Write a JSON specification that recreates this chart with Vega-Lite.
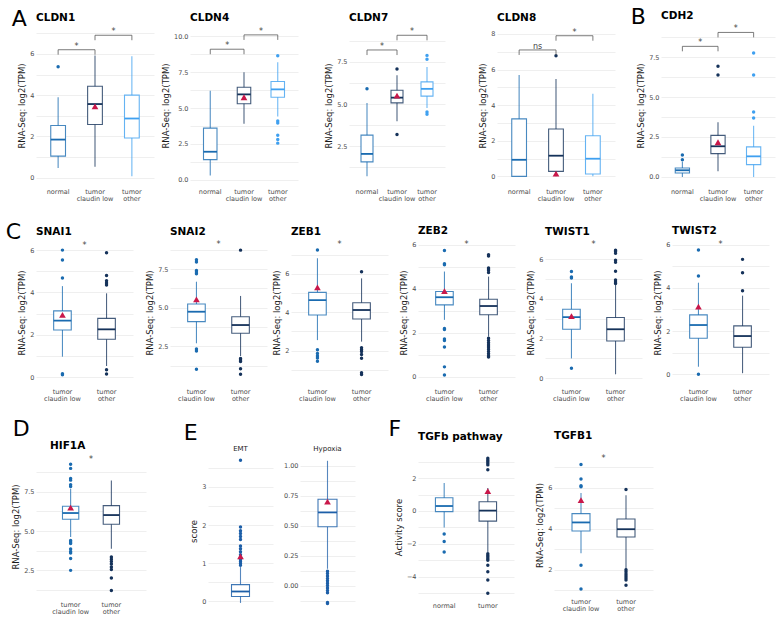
{
"$schema": "https://vega.github.io/schema/vega-lite/v6.json",
"background": "white",
"padding": 5,
"config": {
  "font": "DejaVu Sans",
  "view": {"stroke": null},
  "axis": {"domain": false, "ticks": false, "labelOverlap": false, "labelFontSize": 6.5, "labelColor": "#4d4d4d", "titleFontSize": 8.5, "titleFontWeight": "normal", "titleColor": "#1a1a1a", "gridColor": "#ebebeb", "gridWidth": 0.8, "labelPadding": 2, "titlePadding": 3},
  "axisX": {"grid": false, "labelAngle": 0, "labelPadding": 4, "labelLineHeight": 7.5, "labelColor": "#4d4d4d"},
  "title": {"fontSize": 10.5, "fontWeight": "bold", "anchor": "start", "frame": "group", "color": "#000000", "offset": 4},
  "concat": {"spacing": 6}
},
"datasets": {
  "box": [
    {"p":"CLDN1","g":"normal","lo":0.48,"q1":1.05,"md":1.85,"q3":2.53,"hi":3.9},
    {"p":"CLDN1","g":"tumor claudin low","lo":0.53,"q1":2.58,"md":3.57,"q3":4.43,"hi":5.92},
    {"p":"CLDN1","g":"tumor other","lo":0.08,"q1":1.93,"md":2.87,"q3":4.0,"hi":5.88},
    {"p":"CLDN4","g":"normal","lo":0.3,"q1":1.4,"md":1.95,"q3":3.6,"hi":6.2},
    {"p":"CLDN4","g":"tumor claudin low","lo":3.9,"q1":5.3,"md":5.95,"q3":6.45,"hi":7.5},
    {"p":"CLDN4","g":"tumor other","lo":4.4,"q1":5.75,"md":6.3,"q3":6.85,"hi":8.2},
    {"p":"CLDN7","g":"normal","lo":0.73,"q1":1.58,"md":2.05,"q3":3.16,"hi":5.07},
    {"p":"CLDN7","g":"tumor claudin low","lo":3.99,"q1":5.07,"md":5.38,"q3":5.82,"hi":6.7},
    {"p":"CLDN7","g":"tumor other","lo":4.77,"q1":5.47,"md":5.9,"q3":6.31,"hi":7.2},
    {"p":"CLDN8","g":"normal","lo":0,"q1":0,"md":0.93,"q3":3.23,"hi":5.7},
    {"p":"CLDN8","g":"tumor claudin low","lo":0,"q1":0.28,"md":1.16,"q3":2.66,"hi":5.47},
    {"p":"CLDN8","g":"tumor other","lo":0,"q1":0.13,"md":0.99,"q3":2.28,"hi":4.64},
    {"p":"CDH2","g":"normal","lo":0,"q1":0.25,"md":0.42,"q3":0.56,"hi":0.95},
    {"p":"CDH2","g":"tumor claudin low","lo":0.35,"q1":1.46,"md":1.92,"q3":2.6,"hi":3.42},
    {"p":"CDH2","g":"tumor other","lo":0,"q1":0.77,"md":1.29,"q3":1.88,"hi":3.2},
    {"p":"SNAI1","g":"tumor claudin low","lo":0.97,"q1":2.23,"md":2.67,"q3":3.13,"hi":4.3},
    {"p":"SNAI1","g":"tumor other","lo":0.53,"q1":1.79,"md":2.26,"q3":2.78,"hi":3.96},
    {"p":"SNAI2","g":"tumor claudin low","lo":2.7,"q1":4.1,"md":4.74,"q3":5.24,"hi":6.68},
    {"p":"SNAI2","g":"tumor other","lo":1.88,"q1":3.35,"md":3.88,"q3":4.42,"hi":5.76},
    {"p":"ZEB1","g":"tumor claudin low","lo":2.55,"q1":3.86,"md":4.64,"q3":5.04,"hi":6.82},
    {"p":"ZEB1","g":"tumor other","lo":2.47,"q1":3.65,"md":4.12,"q3":4.5,"hi":5.77},
    {"p":"ZEB2","g":"tumor claudin low","lo":2.59,"q1":3.27,"md":3.62,"q3":3.88,"hi":4.79},
    {"p":"ZEB2","g":"tumor other","lo":1.83,"q1":2.82,"md":3.22,"q3":3.53,"hi":4.56},
    {"p":"TWIST1","g":"tumor claudin low","lo":1.0,"q1":2.47,"md":3.08,"q3":3.48,"hi":4.79},
    {"p":"TWIST1","g":"tumor other","lo":0.2,"q1":1.88,"md":2.47,"q3":3.06,"hi":4.7},
    {"p":"TWIST2","g":"tumor claudin low","lo":0.35,"q1":1.67,"md":2.28,"q3":2.75,"hi":4.24},
    {"p":"TWIST2","g":"tumor other","lo":0.05,"q1":1.25,"md":1.77,"q3":2.24,"hi":3.64},
    {"p":"HIF1A","g":"tumor claudin low","lo":4.62,"q1":5.75,"md":6.15,"q3":6.58,"hi":7.7},
    {"p":"HIF1A","g":"tumor other","lo":3.87,"q1":5.43,"md":6.02,"q3":6.62,"hi":8.23},
    {"p":"EMT","g":"EMT","lo":-0.04,"q1":0.13,"md":0.26,"q3":0.44,"hi":0.9},
    {"p":"Hypoxia","g":"Hypoxia","lo":0.14,"q1":0.49,"md":0.61,"q3":0.72,"hi":1.04},
    {"p":"TGFb","g":"normal","lo":-1.0,"q1":-0.04,"md":0.3,"q3":0.8,"hi":1.7},
    {"p":"TGFb","g":"tumor","lo":-2.5,"q1":-0.62,"md":0.02,"q3":0.56,"hi":1.4},
    {"p":"TGFB1","g":"tumor claudin low","lo":2.81,"q1":3.89,"md":4.31,"q3":4.74,"hi":5.74},
    {"p":"TGFB1","g":"tumor other","lo":1.86,"q1":3.6,"md":3.98,"q3":4.48,"hi":5.63}
  ],
  "mean": [
    {"p":"CLDN1","g":"tumor claudin low","m":3.46},
    {"p":"CLDN4","g":"tumor claudin low","m":5.75},
    {"p":"CLDN7","g":"tumor claudin low","m":5.5},
    {"p":"CLDN8","g":"tumor claudin low","m":0.15},
    {"p":"CDH2","g":"tumor claudin low","m":2.17},
    {"p":"SNAI1","g":"tumor claudin low","m":2.94},
    {"p":"SNAI2","g":"tumor claudin low","m":5.54},
    {"p":"ZEB1","g":"tumor claudin low","m":5.3},
    {"p":"ZEB2","g":"tumor claudin low","m":3.9},
    {"p":"TWIST1","g":"tumor claudin low","m":3.13},
    {"p":"TWIST2","g":"tumor claudin low","m":3.13},
    {"p":"HIF1A","g":"tumor claudin low","m":6.5},
    {"p":"EMT","g":"EMT","m":1.18},
    {"p":"Hypoxia","g":"Hypoxia","m":0.7},
    {"p":"TGFb","g":"tumor","m":1.2},
    {"p":"TGFB1","g":"tumor claudin low","m":5.4}
  ],
  "sig": [
    {"p":"CLDN1","g1":"normal","g2":"tumor claudin low","y":6.2,"yl":5.96,"t":"*"},
    {"p":"CLDN1","g1":"tumor claudin low","g2":"tumor other","y":6.9,"yl":6.66,"t":"*"},
    {"p":"CLDN4","g1":"normal","g2":"tumor claudin low","y":9.1,"yl":8.75,"t":"*"},
    {"p":"CLDN4","g1":"tumor claudin low","g2":"tumor other","y":10.1,"yl":9.75,"t":"*"},
    {"p":"CLDN7","g1":"normal","g2":"tumor claudin low","y":8.2,"yl":7.9,"t":"*"},
    {"p":"CLDN7","g1":"tumor claudin low","g2":"tumor other","y":9.07,"yl":8.77,"t":"*"},
    {"p":"CLDN8","g1":"normal","g2":"tumor claudin low","y":7.1,"yl":6.82,"t":"ns"},
    {"p":"CLDN8","g1":"tumor claudin low","g2":"tumor other","y":7.9,"yl":7.62,"t":"*"},
    {"p":"CDH2","g1":"normal","g2":"tumor claudin low","y":8.17,"yl":7.86,"t":"*"},
    {"p":"CDH2","g1":"tumor claudin low","g2":"tumor other","y":9.04,"yl":8.73,"t":"*"},
    {"p":"SNAI1","g1":"tumor claudin low","g2":"tumor other","y":6.2,"yl":6.2,"t":"*"},
    {"p":"SNAI2","g1":"tumor claudin low","g2":"tumor other","y":9.05,"yl":9.05,"t":"*"},
    {"p":"ZEB1","g1":"tumor claudin low","g2":"tumor other","y":7.5,"yl":7.5,"t":"*"},
    {"p":"ZEB2","g1":"tumor claudin low","g2":"tumor other","y":6.0,"yl":6.0,"t":"*"},
    {"p":"TWIST1","g1":"tumor claudin low","g2":"tumor other","y":6.7,"yl":6.7,"t":"*"},
    {"p":"TWIST2","g1":"tumor claudin low","g2":"tumor other","y":6.0,"yl":6.0,"t":"*"},
    {"p":"HIF1A","g1":"tumor claudin low","g2":"tumor other","y":9.55,"yl":9.55,"t":"*"},
    {"p":"TGFB1","g1":"tumor claudin low","g2":"tumor other","y":7.4,"yl":7.4,"t":"*"}
  ],
  "out": [
    {"p":"CLDN1","g":"normal","v":5.38},
    {"p":"CLDN4","g":"tumor other","v":8.65},{"p":"CLDN4","g":"tumor other","v":4.1},{"p":"CLDN4","g":"tumor other","v":3.95},{"p":"CLDN4","g":"tumor other","v":3.1},{"p":"CLDN4","g":"tumor other","v":2.8},{"p":"CLDN4","g":"tumor other","v":2.55},
    {"p":"CLDN7","g":"normal","v":5.9},{"p":"CLDN7","g":"tumor claudin low","v":7.08},{"p":"CLDN7","g":"tumor claudin low","v":3.2},{"p":"CLDN7","g":"tumor other","v":7.88},{"p":"CLDN7","g":"tumor other","v":7.65},{"p":"CLDN7","g":"tumor other","v":4.53},{"p":"CLDN7","g":"tumor other","v":4.4},
    {"p":"CLDN8","g":"tumor claudin low","v":6.77},
    {"p":"CDH2","g":"normal","v":1.37},{"p":"CDH2","g":"normal","v":1.08},{"p":"CDH2","g":"tumor claudin low","v":6.92},{"p":"CDH2","g":"tumor claudin low","v":6.38},{"p":"CDH2","g":"tumor other","v":7.75},{"p":"CDH2","g":"tumor other","v":6.38},{"p":"CDH2","g":"tumor other","v":4.06},{"p":"CDH2","g":"tumor other","v":3.69},
    {"p":"SNAI1","g":"tumor claudin low","v":6.0},{"p":"SNAI1","g":"tumor claudin low","v":5.53},{"p":"SNAI1","g":"tumor claudin low","v":4.68},{"p":"SNAI1","g":"tumor claudin low","v":0.16},{"p":"SNAI1","g":"tumor claudin low","v":0.12},
    {"p":"SNAI1","g":"tumor other","v":5.88},{"p":"SNAI1","g":"tumor other","v":4.8},{"p":"SNAI1","g":"tumor other","v":4.55},{"p":"SNAI1","g":"tumor other","v":4.45},{"p":"SNAI1","g":"tumor other","v":4.35},{"p":"SNAI1","g":"tumor other","v":0.35},{"p":"SNAI1","g":"tumor other","v":0.15},
    {"p":"SNAI2","g":"tumor claudin low","v":8.1},{"p":"SNAI2","g":"tumor claudin low","v":7.95},{"p":"SNAI2","g":"tumor claudin low","v":7.4},{"p":"SNAI2","g":"tumor claudin low","v":7.3},{"p":"SNAI2","g":"tumor claudin low","v":7.2},{"p":"SNAI2","g":"tumor claudin low","v":2.33},{"p":"SNAI2","g":"tumor claudin low","v":2.2},{"p":"SNAI2","g":"tumor claudin low","v":1.02},
    {"p":"SNAI2","g":"tumor other","v":8.72},{"p":"SNAI2","g":"tumor other","v":1.72},{"p":"SNAI2","g":"tumor other","v":1.62},{"p":"SNAI2","g":"tumor other","v":1.52},{"p":"SNAI2","g":"tumor other","v":1.05},{"p":"SNAI2","g":"tumor other","v":0.7},
    {"p":"ZEB1","g":"tumor claudin low","v":7.25},{"p":"ZEB1","g":"tumor claudin low","v":2.05},{"p":"ZEB1","g":"tumor claudin low","v":1.85},{"p":"ZEB1","g":"tumor claudin low","v":1.72},{"p":"ZEB1","g":"tumor claudin low","v":1.62},{"p":"ZEB1","g":"tumor claudin low","v":1.45},
    {"p":"ZEB1","g":"tumor other","v":6.12},{"p":"ZEB1","g":"tumor other","v":2.15},{"p":"ZEB1","g":"tumor other","v":2.05},{"p":"ZEB1","g":"tumor other","v":1.95},{"p":"ZEB1","g":"tumor other","v":1.8},{"p":"ZEB1","g":"tumor other","v":1.6},{"p":"ZEB1","g":"tumor other","v":0.85},{"p":"ZEB1","g":"tumor other","v":0.75},
    {"p":"ZEB2","g":"tumor claudin low","v":5.75},{"p":"ZEB2","g":"tumor claudin low","v":5.15},{"p":"ZEB2","g":"tumor claudin low","v":5.1},{"p":"ZEB2","g":"tumor claudin low","v":2.2},{"p":"ZEB2","g":"tumor claudin low","v":2.15},{"p":"ZEB2","g":"tumor claudin low","v":1.72},{"p":"ZEB2","g":"tumor claudin low","v":1.65},{"p":"ZEB2","g":"tumor claudin low","v":1.35},{"p":"ZEB2","g":"tumor claudin low","v":0.45},{"p":"ZEB2","g":"tumor claudin low","v":0.08},
    {"p":"ZEB2","g":"tumor other","v":5.55},{"p":"ZEB2","g":"tumor other","v":5.5},{"p":"ZEB2","g":"tumor other","v":4.95},{"p":"ZEB2","g":"tumor other","v":4.9},{"p":"ZEB2","g":"tumor other","v":4.85},{"p":"ZEB2","g":"tumor other","v":4.75},{"p":"ZEB2","g":"tumor other","v":1.75},{"p":"ZEB2","g":"tumor other","v":1.65},{"p":"ZEB2","g":"tumor other","v":1.55},{"p":"ZEB2","g":"tumor other","v":1.45},{"p":"ZEB2","g":"tumor other","v":1.35},{"p":"ZEB2","g":"tumor other","v":1.25},{"p":"ZEB2","g":"tumor other","v":1.15},{"p":"ZEB2","g":"tumor other","v":1.05},{"p":"ZEB2","g":"tumor other","v":0.95},{"p":"ZEB2","g":"tumor other","v":0.9},
    {"p":"TWIST1","g":"tumor claudin low","v":5.38},{"p":"TWIST1","g":"tumor claudin low","v":5.1},{"p":"TWIST1","g":"tumor claudin low","v":5.05},{"p":"TWIST1","g":"tumor claudin low","v":0.5},
    {"p":"TWIST1","g":"tumor other","v":6.45},{"p":"TWIST1","g":"tumor other","v":6.4},{"p":"TWIST1","g":"tumor other","v":6.3},{"p":"TWIST1","g":"tumor other","v":5.95},{"p":"TWIST1","g":"tumor other","v":5.85},{"p":"TWIST1","g":"tumor other","v":5.4},{"p":"TWIST1","g":"tumor other","v":4.95},{"p":"TWIST1","g":"tumor other","v":4.85},{"p":"TWIST1","g":"tumor other","v":4.78},
    {"p":"TWIST2","g":"tumor claudin low","v":5.75},{"p":"TWIST2","g":"tumor claudin low","v":4.55},{"p":"TWIST2","g":"tumor claudin low","v":0.0},{"p":"TWIST2","g":"tumor other","v":5.32},{"p":"TWIST2","g":"tumor other","v":4.7},{"p":"TWIST2","g":"tumor other","v":3.87},
    {"p":"HIF1A","g":"tumor claudin low","v":9.26},{"p":"HIF1A","g":"tumor claudin low","v":9.0},{"p":"HIF1A","g":"tumor claudin low","v":8.35},{"p":"HIF1A","g":"tumor claudin low","v":8.25},{"p":"HIF1A","g":"tumor claudin low","v":7.95},{"p":"HIF1A","g":"tumor claudin low","v":7.85},{"p":"HIF1A","g":"tumor claudin low","v":4.4},{"p":"HIF1A","g":"tumor claudin low","v":4.3},{"p":"HIF1A","g":"tumor claudin low","v":4.2},{"p":"HIF1A","g":"tumor claudin low","v":3.85},{"p":"HIF1A","g":"tumor claudin low","v":3.7},{"p":"HIF1A","g":"tumor claudin low","v":3.6},{"p":"HIF1A","g":"tumor claudin low","v":3.25},{"p":"HIF1A","g":"tumor claudin low","v":2.49},
    {"p":"HIF1A","g":"tumor other","v":3.35},{"p":"HIF1A","g":"tumor other","v":3.2},{"p":"HIF1A","g":"tumor other","v":3.05},{"p":"HIF1A","g":"tumor other","v":2.9},{"p":"HIF1A","g":"tumor other","v":2.7},{"p":"HIF1A","g":"tumor other","v":2.55},{"p":"HIF1A","g":"tumor other","v":2.0},{"p":"HIF1A","g":"tumor other","v":1.2},
    {"p":"EMT","g":"EMT","v":3.7},{"p":"EMT","g":"EMT","v":1.95},{"p":"EMT","g":"EMT","v":1.85},{"p":"EMT","g":"EMT","v":1.78},{"p":"EMT","g":"EMT","v":1.7},{"p":"EMT","g":"EMT","v":1.62},{"p":"EMT","g":"EMT","v":1.45},{"p":"EMT","g":"EMT","v":1.38},{"p":"EMT","g":"EMT","v":1.3},{"p":"EMT","g":"EMT","v":1.22},{"p":"EMT","g":"EMT","v":1.15},{"p":"EMT","g":"EMT","v":1.1},{"p":"EMT","g":"EMT","v":1.05},{"p":"EMT","g":"EMT","v":1.0},{"p":"EMT","g":"EMT","v":0.95},
    {"p":"Hypoxia","g":"Hypoxia","v":0.12},{"p":"Hypoxia","g":"Hypoxia","v":0.1},{"p":"Hypoxia","g":"Hypoxia","v":0.08},{"p":"Hypoxia","g":"Hypoxia","v":0.06},{"p":"Hypoxia","g":"Hypoxia","v":0.04},{"p":"Hypoxia","g":"Hypoxia","v":0.02},{"p":"Hypoxia","g":"Hypoxia","v":0.0},{"p":"Hypoxia","g":"Hypoxia","v":-0.02},{"p":"Hypoxia","g":"Hypoxia","v":-0.04},{"p":"Hypoxia","g":"Hypoxia","v":-0.06},{"p":"Hypoxia","g":"Hypoxia","v":-0.14},{"p":"Hypoxia","g":"Hypoxia","v":-0.15},
    {"p":"TGFb","g":"normal","v":-1.4},{"p":"TGFb","g":"normal","v":-1.85},{"p":"TGFb","g":"normal","v":-2.5},
    {"p":"TGFb","g":"tumor","v":3.2},{"p":"TGFb","g":"tumor","v":3.1},{"p":"TGFb","g":"tumor","v":3.0},{"p":"TGFb","g":"tumor","v":2.9},{"p":"TGFb","g":"tumor","v":2.8},{"p":"TGFb","g":"tumor","v":2.5},{"p":"TGFb","g":"tumor","v":-2.6},{"p":"TGFb","g":"tumor","v":-2.7},{"p":"TGFb","g":"tumor","v":-2.8},{"p":"TGFb","g":"tumor","v":-2.9},{"p":"TGFb","g":"tumor","v":-3.0},{"p":"TGFb","g":"tumor","v":-3.3},{"p":"TGFb","g":"tumor","v":-3.7},{"p":"TGFb","g":"tumor","v":-4.2},{"p":"TGFb","g":"tumor","v":-5.0},
    {"p":"TGFB1","g":"tumor claudin low","v":7.14},{"p":"TGFB1","g":"tumor claudin low","v":6.43},{"p":"TGFB1","g":"tumor claudin low","v":6.1},{"p":"TGFB1","g":"tumor claudin low","v":6.05},{"p":"TGFB1","g":"tumor claudin low","v":2.22},{"p":"TGFB1","g":"tumor claudin low","v":1.06},
    {"p":"TGFB1","g":"tumor other","v":5.92},{"p":"TGFB1","g":"tumor other","v":2.0},{"p":"TGFB1","g":"tumor other","v":1.9},{"p":"TGFB1","g":"tumor other","v":1.8},{"p":"TGFB1","g":"tumor other","v":1.7},{"p":"TGFB1","g":"tumor other","v":1.6},{"p":"TGFB1","g":"tumor other","v":1.5},{"p":"TGFB1","g":"tumor other","v":1.25}
  ]
},
"resolve": {"scale": {"color": "independent", "stroke": "independent"}},
"columns": 1,
"align": "none",
"spacing": 19,
"concat": [
 {"hconcat": [
  {"title": {"text": "A", "fontSize": 22, "fontWeight": "normal", "anchor": "start", "frame": "bounds", "offset": -18, "dx": -6},
   "resolve": {"scale": {"color": "independent", "stroke": "independent"}},
   "spacing": 33,
   "hconcat": [
    {"resolve": {"scale": {"color": "independent", "stroke": "independent"}},
     "spacing": 26,
     "hconcat": [
    {"resolve": {"scale": {"color": "independent", "stroke": "independent"}},
     "spacing": 7,
     "hconcat": [
    {"width": 118, "height": 157, "title": "CLDN1",
     "encoding": {"x": {"field":"g","type":"nominal","title":null,"scale":{"domain":["normal","tumor claudin low","tumor other"],"paddingInner":0,"paddingOuter":0.1},"axis":{"labelExpr":"datum.label == 'tumor claudin low' ? ['tumor','claudin low'] : datum.label == 'tumor other' ? ['tumor','other'] : datum.label"}}},
     "layer": [
      {"data":{"name":"box"},"transform":[{"filter":"datum.p=='CLDN1'"}],"layer":[
        {"mark":{"type":"rule","strokeWidth":1.1,"opacity":0.75},"encoding":{"y":{"field":"lo","type":"quantitative","title":"RNA-Seq: log2(TPM)","scale":{"domain":[-0.3,7.3],"nice":false,"zero":false},"axis":{"tickCount":100,"labelOverlap":false,"format":".0f","values":[0,1,2,3,4,5,6,7],"labelExpr":"datum.value % 2 == 0 ? datum.label : ''"}},"y2":{"field":"hi"},"color":{"field":"g","type":"nominal","legend":null,"scale":{"domain":["normal","tumor claudin low","tumor other"],"range":["#1a6bb0","#15325a","#3fa0f0"]}}}},
        {"mark":{"type":"bar","width":14.75,"fill":"white","strokeWidth":1.1,"strokeOpacity":0.8},"encoding":{"y":{"field":"q1","type":"quantitative"},"y2":{"field":"q3"},"stroke":{"field":"g","type":"nominal","legend":null,"scale":{"domain":["normal","tumor claudin low","tumor other"],"range":["#1a6bb0","#15325a","#3fa0f0"]}}}},
        {"mark":{"type":"tick","size":14.75,"thickness":1.8,"opacity":1},"encoding":{"y":{"field":"md","type":"quantitative"},"color":{"field":"g","type":"nominal","legend":null}}}
      ]},
      {"data":{"name":"out"},"transform":[{"filter":"datum.p=='CLDN1'"}],"mark":{"type":"circle","size":12,"opacity":1},"encoding":{"y":{"field":"v","type":"quantitative"},"color":{"field":"g","type":"nominal","legend":null}}},
      {"data":{"name":"mean"},"transform":[{"filter":"datum.p=='CLDN1'"}],"mark":{"type":"point","shape":"triangle-up","filled":true,"size":45,"color":"#c9184a","opacity":1},"encoding":{"y":{"field":"m","type":"quantitative"}}},
      {"data":{"name":"sig"},"transform":[{"filter":"datum.p=='CLDN1'"}],"layer":[
        {"mark":{"type":"rule","color":"#595959","strokeWidth":0.8},"encoding":{"x":{"field":"g1","type":"nominal","title":null},"x2":{"field":"g2"},"y":{"field":"y","type":"quantitative"}}},
        {"mark":{"type":"rule","color":"#595959","strokeWidth":0.8},"encoding":{"x":{"field":"g1","type":"nominal","title":null},"y":{"field":"y","type":"quantitative"},"y2":{"field":"yl"}}},
        {"mark":{"type":"rule","color":"#595959","strokeWidth":0.8},"encoding":{"x":{"field":"g2","type":"nominal","title":null},"y":{"field":"y","type":"quantitative"},"y2":{"field":"yl"}}},
        {"mark":{"type":"text","dx":18.4,"dy":-1,"fontSize":8,"color":"#444444","baseline":"alphabetic"},"encoding":{"x":{"field":"g1","type":"nominal","title":null},"y":{"field":"y","type":"quantitative"},"text":{"field":"t"}}}
      ]}
     ]},
    {"width": 108, "height": 157, "title": "CLDN4",
     "encoding": {"x": {"field":"g","type":"nominal","title":null,"scale":{"domain":["normal","tumor claudin low","tumor other"],"paddingInner":0,"paddingOuter":0.1},"axis":{"labelExpr":"datum.label == 'tumor claudin low' ? ['tumor','claudin low'] : datum.label == 'tumor other' ? ['tumor','other'] : datum.label"}}},
     "layer": [
      {"data":{"name":"box"},"transform":[{"filter":"datum.p=='CLDN4'"}],"layer":[
        {"mark":{"type":"rule","strokeWidth":1.1,"opacity":0.75},"encoding":{"y":{"field":"lo","type":"quantitative","title":"RNA-Seq: log2(TPM)","scale":{"domain":[-0.3,10.65],"nice":false,"zero":false},"axis":{"tickCount":100,"labelOverlap":false,"values":[0,1.25,2.5,3.75,5,6.25,7.5,8.75,10],"format":".1f","labelExpr":"datum.value % 2.5 == 0 ? datum.label : ''"}},"y2":{"field":"hi"},"color":{"field":"g","type":"nominal","legend":null,"scale":{"domain":["normal","tumor claudin low","tumor other"],"range":["#1a6bb0","#15325a","#3fa0f0"]}}}},
        {"mark":{"type":"bar","width":13.5,"fill":"white","strokeWidth":1.1,"strokeOpacity":0.8},"encoding":{"y":{"field":"q1","type":"quantitative"},"y2":{"field":"q3"},"stroke":{"field":"g","type":"nominal","legend":null,"scale":{"domain":["normal","tumor claudin low","tumor other"],"range":["#1a6bb0","#15325a","#3fa0f0"]}}}},
        {"mark":{"type":"tick","size":13.5,"thickness":1.8,"opacity":1},"encoding":{"y":{"field":"md","type":"quantitative"},"color":{"field":"g","type":"nominal","legend":null}}}
      ]},
      {"data":{"name":"out"},"transform":[{"filter":"datum.p=='CLDN4'"}],"mark":{"type":"circle","size":12,"opacity":1},"encoding":{"y":{"field":"v","type":"quantitative"},"color":{"field":"g","type":"nominal","legend":null}}},
      {"data":{"name":"mean"},"transform":[{"filter":"datum.p=='CLDN4'"}],"mark":{"type":"point","shape":"triangle-up","filled":true,"size":45,"color":"#c9184a","opacity":1},"encoding":{"y":{"field":"m","type":"quantitative"}}},
      {"data":{"name":"sig"},"transform":[{"filter":"datum.p=='CLDN4'"}],"layer":[
        {"mark":{"type":"rule","color":"#595959","strokeWidth":0.8},"encoding":{"x":{"field":"g1","type":"nominal","title":null},"x2":{"field":"g2"},"y":{"field":"y","type":"quantitative"}}},
        {"mark":{"type":"rule","color":"#595959","strokeWidth":0.8},"encoding":{"x":{"field":"g1","type":"nominal","title":null},"y":{"field":"y","type":"quantitative"},"y2":{"field":"yl"}}},
        {"mark":{"type":"rule","color":"#595959","strokeWidth":0.8},"encoding":{"x":{"field":"g2","type":"nominal","title":null},"y":{"field":"y","type":"quantitative"},"y2":{"field":"yl"}}},
        {"mark":{"type":"text","dx":16.9,"dy":-1,"fontSize":8,"color":"#444444","baseline":"alphabetic"},"encoding":{"x":{"field":"g1","type":"nominal","title":null},"y":{"field":"y","type":"quantitative"},"text":{"field":"t"}}}
      ]}
     ]}
     ]},
    {"width": 96, "height": 157, "title": "CLDN7",
     "encoding": {"x": {"field":"g","type":"nominal","title":null,"scale":{"domain":["normal","tumor claudin low","tumor other"],"paddingInner":0,"paddingOuter":0.1},"axis":{"labelExpr":"datum.label == 'tumor claudin low' ? ['tumor','claudin low'] : datum.label == 'tumor other' ? ['tumor','other'] : datum.label"}}},
     "layer": [
      {"data":{"name":"box"},"transform":[{"filter":"datum.p=='CLDN7'"}],"layer":[
        {"mark":{"type":"rule","strokeWidth":1.1,"opacity":0.75},"encoding":{"y":{"field":"lo","type":"quantitative","title":"RNA-Seq: log2(TPM)","scale":{"domain":[0.27,9.56],"nice":false,"zero":false},"axis":{"tickCount":100,"labelOverlap":false,"values":[1.25,2.5,3.75,5,6.25,7.5,8.75],"format":".1f","labelExpr":"datum.value % 2.5 == 0 ? datum.label : ''"}},"y2":{"field":"hi"},"color":{"field":"g","type":"nominal","legend":null,"scale":{"domain":["normal","tumor claudin low","tumor other"],"range":["#1a6bb0","#15325a","#3fa0f0"]}}}},
        {"mark":{"type":"bar","width":12,"fill":"white","strokeWidth":1.1,"strokeOpacity":0.8},"encoding":{"y":{"field":"q1","type":"quantitative"},"y2":{"field":"q3"},"stroke":{"field":"g","type":"nominal","legend":null,"scale":{"domain":["normal","tumor claudin low","tumor other"],"range":["#1a6bb0","#15325a","#3fa0f0"]}}}},
        {"mark":{"type":"tick","size":12,"thickness":1.8,"opacity":1},"encoding":{"y":{"field":"md","type":"quantitative"},"color":{"field":"g","type":"nominal","legend":null}}}
      ]},
      {"data":{"name":"out"},"transform":[{"filter":"datum.p=='CLDN7'"}],"mark":{"type":"circle","size":12,"opacity":1},"encoding":{"y":{"field":"v","type":"quantitative"},"color":{"field":"g","type":"nominal","legend":null}}},
      {"data":{"name":"mean"},"transform":[{"filter":"datum.p=='CLDN7'"}],"mark":{"type":"point","shape":"triangle-up","filled":true,"size":45,"color":"#c9184a","opacity":1},"encoding":{"y":{"field":"m","type":"quantitative"}}},
      {"data":{"name":"sig"},"transform":[{"filter":"datum.p=='CLDN7'"}],"layer":[
        {"mark":{"type":"rule","color":"#595959","strokeWidth":0.8},"encoding":{"x":{"field":"g1","type":"nominal","title":null},"x2":{"field":"g2"},"y":{"field":"y","type":"quantitative"}}},
        {"mark":{"type":"rule","color":"#595959","strokeWidth":0.8},"encoding":{"x":{"field":"g1","type":"nominal","title":null},"y":{"field":"y","type":"quantitative"},"y2":{"field":"yl"}}},
        {"mark":{"type":"rule","color":"#595959","strokeWidth":0.8},"encoding":{"x":{"field":"g2","type":"nominal","title":null},"y":{"field":"y","type":"quantitative"},"y2":{"field":"yl"}}},
        {"mark":{"type":"text","dx":15,"dy":-1,"fontSize":8,"color":"#444444","baseline":"alphabetic"},"encoding":{"x":{"field":"g1","type":"nominal","title":null},"y":{"field":"y","type":"quantitative"},"text":{"field":"t"}}}
      ]}
     ]}
     ]},
    {"width": 118, "height": 157, "title": "CLDN8",
     "encoding": {"x": {"field":"g","type":"nominal","title":null,"scale":{"domain":["normal","tumor claudin low","tumor other"],"paddingInner":0,"paddingOuter":0.1},"axis":{"labelExpr":"datum.label == 'tumor claudin low' ? ['tumor','claudin low'] : datum.label == 'tumor other' ? ['tumor','other'] : datum.label"}}},
     "layer": [
      {"data":{"name":"box"},"transform":[{"filter":"datum.p=='CLDN8'"}],"layer":[
        {"mark":{"type":"rule","strokeWidth":1.1,"opacity":0.75},"encoding":{"y":{"field":"lo","type":"quantitative","title":"RNA-Seq: log2(TPM)","scale":{"domain":[-0.43,8.39],"nice":false,"zero":false},"axis":{"tickCount":100,"labelOverlap":false,"format":".0f","values":[0,1,2,3,4,5,6,7,8],"labelExpr":"datum.value % 2 == 0 ? datum.label : ''"}},"y2":{"field":"hi"},"color":{"field":"g","type":"nominal","legend":null,"scale":{"domain":["normal","tumor claudin low","tumor other"],"range":["#1a6bb0","#15325a","#3fa0f0"]}}}},
        {"mark":{"type":"bar","width":14.75,"fill":"white","strokeWidth":1.1,"strokeOpacity":0.8},"encoding":{"y":{"field":"q1","type":"quantitative"},"y2":{"field":"q3"},"stroke":{"field":"g","type":"nominal","legend":null,"scale":{"domain":["normal","tumor claudin low","tumor other"],"range":["#1a6bb0","#15325a","#3fa0f0"]}}}},
        {"mark":{"type":"tick","size":14.75,"thickness":1.8,"opacity":1},"encoding":{"y":{"field":"md","type":"quantitative"},"color":{"field":"g","type":"nominal","legend":null}}}
      ]},
      {"data":{"name":"out"},"transform":[{"filter":"datum.p=='CLDN8'"}],"mark":{"type":"circle","size":12,"opacity":1},"encoding":{"y":{"field":"v","type":"quantitative"},"color":{"field":"g","type":"nominal","legend":null}}},
      {"data":{"name":"mean"},"transform":[{"filter":"datum.p=='CLDN8'"}],"mark":{"type":"point","shape":"triangle-up","filled":true,"size":45,"color":"#c9184a","opacity":1},"encoding":{"y":{"field":"m","type":"quantitative"}}},
      {"data":{"name":"sig"},"transform":[{"filter":"datum.p=='CLDN8'"}],"layer":[
        {"mark":{"type":"rule","color":"#595959","strokeWidth":0.8},"encoding":{"x":{"field":"g1","type":"nominal","title":null},"x2":{"field":"g2"},"y":{"field":"y","type":"quantitative"}}},
        {"mark":{"type":"rule","color":"#595959","strokeWidth":0.8},"encoding":{"x":{"field":"g1","type":"nominal","title":null},"y":{"field":"y","type":"quantitative"},"y2":{"field":"yl"}}},
        {"mark":{"type":"rule","color":"#595959","strokeWidth":0.8},"encoding":{"x":{"field":"g2","type":"nominal","title":null},"y":{"field":"y","type":"quantitative"},"y2":{"field":"yl"}}},
        {"mark":{"type":"text","dx":18.4,"dy":-1,"fontSize":8,"color":"#444444","baseline":"alphabetic"},"encoding":{"x":{"field":"g1","type":"nominal","title":null},"y":{"field":"y","type":"quantitative"},"text":{"field":"t"}}}
      ]}
     ]}
   ]},
  {"title": {"text": "B", "fontSize": 22, "fontWeight": "normal", "anchor": "start", "frame": "bounds", "offset": -18, "dx": -6},
   "resolve": {"scale": {"color": "independent", "stroke": "independent"}},
   "hconcat": [
    {"width": 114, "height": 157, "title": "CDH2",
     "encoding": {"x": {"field":"g","type":"nominal","title":null,"scale":{"domain":["normal","tumor claudin low","tumor other"],"paddingInner":0,"paddingOuter":0.1},"axis":{"labelExpr":"datum.label == 'tumor claudin low' ? ['tumor','claudin low'] : datum.label == 'tumor other' ? ['tumor','other'] : datum.label"}}},
     "layer": [
      {"data":{"name":"box"},"transform":[{"filter":"datum.p=='CDH2'"}],"layer":[
        {"mark":{"type":"rule","strokeWidth":1.1,"opacity":0.75},"encoding":{"y":{"field":"lo","type":"quantitative","title":"RNA-Seq: log2(TPM)","scale":{"domain":[-0.44,9.38],"nice":false,"zero":false},"axis":{"tickCount":100,"labelOverlap":false,"values":[0,1.25,2.5,3.75,5,6.25,7.5,8.75],"format":".1f","labelExpr":"datum.value % 2.5 == 0 ? datum.label : ''"}},"y2":{"field":"hi"},"color":{"field":"g","type":"nominal","legend":null,"scale":{"domain":["normal","tumor claudin low","tumor other"],"range":["#1a6bb0","#15325a","#3fa0f0"]}}}},
        {"mark":{"type":"bar","width":14.25,"fill":"white","strokeWidth":1.1,"strokeOpacity":0.8},"encoding":{"y":{"field":"q1","type":"quantitative"},"y2":{"field":"q3"},"stroke":{"field":"g","type":"nominal","legend":null,"scale":{"domain":["normal","tumor claudin low","tumor other"],"range":["#1a6bb0","#15325a","#3fa0f0"]}}}},
        {"mark":{"type":"tick","size":14.25,"thickness":1.8,"opacity":1},"encoding":{"y":{"field":"md","type":"quantitative"},"color":{"field":"g","type":"nominal","legend":null}}}
      ]},
      {"data":{"name":"out"},"transform":[{"filter":"datum.p=='CDH2'"}],"mark":{"type":"circle","size":12,"opacity":1},"encoding":{"y":{"field":"v","type":"quantitative"},"color":{"field":"g","type":"nominal","legend":null}}},
      {"data":{"name":"mean"},"transform":[{"filter":"datum.p=='CDH2'"}],"mark":{"type":"point","shape":"triangle-up","filled":true,"size":45,"color":"#c9184a","opacity":1},"encoding":{"y":{"field":"m","type":"quantitative"}}},
      {"data":{"name":"sig"},"transform":[{"filter":"datum.p=='CDH2'"}],"layer":[
        {"mark":{"type":"rule","color":"#595959","strokeWidth":0.8},"encoding":{"x":{"field":"g1","type":"nominal","title":null},"x2":{"field":"g2"},"y":{"field":"y","type":"quantitative"}}},
        {"mark":{"type":"rule","color":"#595959","strokeWidth":0.8},"encoding":{"x":{"field":"g1","type":"nominal","title":null},"y":{"field":"y","type":"quantitative"},"y2":{"field":"yl"}}},
        {"mark":{"type":"rule","color":"#595959","strokeWidth":0.8},"encoding":{"x":{"field":"g2","type":"nominal","title":null},"y":{"field":"y","type":"quantitative"},"y2":{"field":"yl"}}},
        {"mark":{"type":"text","dx":17.8,"dy":-1,"fontSize":8,"color":"#444444","baseline":"alphabetic"},"encoding":{"x":{"field":"g1","type":"nominal","title":null},"y":{"field":"y","type":"quantitative"},"text":{"field":"t"}}}
      ]}
     ]}
   ]}
 ], "spacing": 15, "resolve": {"scale": {"color": "independent", "stroke": "independent"}}},
 {"columns": 1, "align": "none", "spacing": 15, "resolve": {"scale": {"color": "independent", "stroke": "independent"}},
  "concat": [
 {"title": {"text": "C", "fontSize": 22, "fontWeight": "normal", "anchor": "start", "frame": "bounds", "offset": -18, "dx": -12},
  "resolve": {"scale": {"color": "independent", "stroke": "independent"}},
  "spacing": 12,
  "hconcat": [
   {"width": 97, "height": 143, "title": "SNAI1",
    "encoding": {"x": {"field":"g","type":"nominal","title":null,"scale":{"domain":["tumor claudin low","tumor other"],"paddingInner":0,"paddingOuter":0.1},"axis":{"labelExpr":"datum.label == 'tumor claudin low' ? ['tumor','claudin low'] : datum.label == 'tumor other' ? ['tumor','other'] : datum.label"}}},
    "layer": [
     {"data":{"name":"box"},"transform":[{"filter":"datum.p=='SNAI1'"}],"layer":[
       {"mark":{"type":"rule","strokeWidth":1.1,"opacity":0.75},"encoding":{"y":{"field":"lo","type":"quantitative","title":"RNA-Seq: log2(TPM)","scale":{"domain":[-0.32,6.43],"nice":false,"zero":false},"axis":{"tickCount":100,"labelOverlap":false,"format":".0f","values":[0,1,2,3,4,5,6],"labelExpr":"datum.value % 2 == 0 ? datum.label : ''"}},"y2":{"field":"hi"},"color":{"field":"g","type":"nominal","legend":null,"scale":{"domain":["tumor claudin low","tumor other"],"range":["#1a6bb0","#15325a"]}}}},
       {"mark":{"type":"bar","width":17.6,"fill":"white","strokeWidth":1.1,"strokeOpacity":0.8},"encoding":{"y":{"field":"q1","type":"quantitative"},"y2":{"field":"q3"},"stroke":{"field":"g","type":"nominal","legend":null,"scale":{"domain":["tumor claudin low","tumor other"],"range":["#1a6bb0","#15325a"]}}}},
       {"mark":{"type":"tick","size":17.6,"thickness":1.8,"opacity":1},"encoding":{"y":{"field":"md","type":"quantitative"},"color":{"field":"g","type":"nominal","legend":null}}}
     ]},
     {"data":{"name":"out"},"transform":[{"filter":"datum.p=='SNAI1'"}],"mark":{"type":"circle","size":12,"opacity":1},"encoding":{"y":{"field":"v","type":"quantitative"},"color":{"field":"g","type":"nominal","legend":null}}},
     {"data":{"name":"mean"},"transform":[{"filter":"datum.p=='SNAI1'"}],"mark":{"type":"point","shape":"triangle-up","filled":true,"size":45,"color":"#c9184a","opacity":1},"encoding":{"y":{"field":"m","type":"quantitative"}}},
     {"data":{"name":"sig"},"transform":[{"filter":"datum.p=='SNAI1'"}],"mark":{"type":"text","dx":22,"fontSize":8,"color":"#444444","baseline":"middle"},"encoding":{"x":{"field":"g1","type":"nominal","title":null},"y":{"field":"y","type":"quantitative"},"text":{"field":"t"}}}
    ]},
   {"resolve": {"scale": {"color": "independent", "stroke": "independent"}},
    "spacing": 5,
    "hconcat": [
   {"width": 97, "height": 143, "title": "SNAI2",
    "encoding": {"x": {"field":"g","type":"nominal","title":null,"scale":{"domain":["tumor claudin low","tumor other"],"paddingInner":0,"paddingOuter":0.1},"axis":{"labelExpr":"datum.label == 'tumor claudin low' ? ['tumor','claudin low'] : datum.label == 'tumor other' ? ['tumor','other'] : datum.label"}}},
    "layer": [
     {"data":{"name":"box"},"transform":[{"filter":"datum.p=='SNAI2'"}],"layer":[
       {"mark":{"type":"rule","strokeWidth":1.1,"opacity":0.75},"encoding":{"y":{"field":"lo","type":"quantitative","title":"RNA-Seq: log2(TPM)","scale":{"domain":[0.07,9.31],"nice":false,"zero":false},"axis":{"tickCount":100,"labelOverlap":false,"values":[1.25,2.5,3.75,5,6.25,7.5,8.75],"format":".1f","labelExpr":"datum.value % 2.5 == 0 ? datum.label : ''"}},"y2":{"field":"hi"},"color":{"field":"g","type":"nominal","legend":null,"scale":{"domain":["tumor claudin low","tumor other"],"range":["#1a6bb0","#15325a"]}}}},
       {"mark":{"type":"bar","width":17.6,"fill":"white","strokeWidth":1.1,"strokeOpacity":0.8},"encoding":{"y":{"field":"q1","type":"quantitative"},"y2":{"field":"q3"},"stroke":{"field":"g","type":"nominal","legend":null,"scale":{"domain":["tumor claudin low","tumor other"],"range":["#1a6bb0","#15325a"]}}}},
       {"mark":{"type":"tick","size":17.6,"thickness":1.8,"opacity":1},"encoding":{"y":{"field":"md","type":"quantitative"},"color":{"field":"g","type":"nominal","legend":null}}}
     ]},
     {"data":{"name":"out"},"transform":[{"filter":"datum.p=='SNAI2'"}],"mark":{"type":"circle","size":12,"opacity":1},"encoding":{"y":{"field":"v","type":"quantitative"},"color":{"field":"g","type":"nominal","legend":null}}},
     {"data":{"name":"mean"},"transform":[{"filter":"datum.p=='SNAI2'"}],"mark":{"type":"point","shape":"triangle-up","filled":true,"size":45,"color":"#c9184a","opacity":1},"encoding":{"y":{"field":"m","type":"quantitative"}}},
     {"data":{"name":"sig"},"transform":[{"filter":"datum.p=='SNAI2'"}],"mark":{"type":"text","dx":22,"fontSize":8,"color":"#444444","baseline":"middle"},"encoding":{"x":{"field":"g1","type":"nominal","title":null},"y":{"field":"y","type":"quantitative"},"text":{"field":"t"}}}
    ]},
   {"resolve": {"scale": {"color": "independent", "stroke": "independent"}},
    "spacing": 11,
    "hconcat": [
   {"width": 97, "height": 143, "title": "ZEB1",
    "encoding": {"x": {"field":"g","type":"nominal","title":null,"scale":{"domain":["tumor claudin low","tumor other"],"paddingInner":0,"paddingOuter":0.1},"axis":{"labelExpr":"datum.label == 'tumor claudin low' ? ['tumor','claudin low'] : datum.label == 'tumor other' ? ['tumor','other'] : datum.label"}}},
    "layer": [
     {"data":{"name":"box"},"transform":[{"filter":"datum.p=='ZEB1'"}],"layer":[
       {"mark":{"type":"rule","strokeWidth":1.1,"opacity":0.75},"encoding":{"y":{"field":"lo","type":"quantitative","title":"RNA-Seq: log2(TPM)","scale":{"domain":[0.26,7.72],"nice":false,"zero":false},"axis":{"tickCount":100,"labelOverlap":false,"format":".0f","values":[1,2,3,4,5,6,7],"labelExpr":"datum.value % 2 == 0 ? datum.label : ''"}},"y2":{"field":"hi"},"color":{"field":"g","type":"nominal","legend":null,"scale":{"domain":["tumor claudin low","tumor other"],"range":["#1a6bb0","#15325a"]}}}},
       {"mark":{"type":"bar","width":17.6,"fill":"white","strokeWidth":1.1,"strokeOpacity":0.8},"encoding":{"y":{"field":"q1","type":"quantitative"},"y2":{"field":"q3"},"stroke":{"field":"g","type":"nominal","legend":null,"scale":{"domain":["tumor claudin low","tumor other"],"range":["#1a6bb0","#15325a"]}}}},
       {"mark":{"type":"tick","size":17.6,"thickness":1.8,"opacity":1},"encoding":{"y":{"field":"md","type":"quantitative"},"color":{"field":"g","type":"nominal","legend":null}}}
     ]},
     {"data":{"name":"out"},"transform":[{"filter":"datum.p=='ZEB1'"}],"mark":{"type":"circle","size":12,"opacity":1},"encoding":{"y":{"field":"v","type":"quantitative"},"color":{"field":"g","type":"nominal","legend":null}}},
     {"data":{"name":"mean"},"transform":[{"filter":"datum.p=='ZEB1'"}],"mark":{"type":"point","shape":"triangle-up","filled":true,"size":45,"color":"#c9184a","opacity":1},"encoding":{"y":{"field":"m","type":"quantitative"}}},
     {"data":{"name":"sig"},"transform":[{"filter":"datum.p=='ZEB1'"}],"mark":{"type":"text","dx":22,"fontSize":8,"color":"#444444","baseline":"middle"},"encoding":{"x":{"field":"g1","type":"nominal","title":null},"y":{"field":"y","type":"quantitative"},"text":{"field":"t"}}}
    ]},
   {"width": 97, "height": 143, "title": "ZEB2",
    "encoding": {"x": {"field":"g","type":"nominal","title":null,"scale":{"domain":["tumor claudin low","tumor other"],"paddingInner":0,"paddingOuter":0.1},"axis":{"labelExpr":"datum.label == 'tumor claudin low' ? ['tumor','claudin low'] : datum.label == 'tumor other' ? ['tumor','other'] : datum.label"}}},
    "layer": [
     {"data":{"name":"box"},"transform":[{"filter":"datum.p=='ZEB2'"}],"layer":[
       {"mark":{"type":"rule","strokeWidth":1.1,"opacity":0.75},"encoding":{"y":{"field":"lo","type":"quantitative","title":"RNA-Seq: log2(TPM)","scale":{"domain":[-0.33,6.18],"nice":false,"zero":false},"axis":{"tickCount":100,"labelOverlap":false,"format":".0f","values":[0,1,2,3,4,5,6],"labelExpr":"datum.value % 2 == 0 ? datum.label : ''"}},"y2":{"field":"hi"},"color":{"field":"g","type":"nominal","legend":null,"scale":{"domain":["tumor claudin low","tumor other"],"range":["#1a6bb0","#15325a"]}}}},
       {"mark":{"type":"bar","width":17.6,"fill":"white","strokeWidth":1.1,"strokeOpacity":0.8},"encoding":{"y":{"field":"q1","type":"quantitative"},"y2":{"field":"q3"},"stroke":{"field":"g","type":"nominal","legend":null,"scale":{"domain":["tumor claudin low","tumor other"],"range":["#1a6bb0","#15325a"]}}}},
       {"mark":{"type":"tick","size":17.6,"thickness":1.8,"opacity":1},"encoding":{"y":{"field":"md","type":"quantitative"},"color":{"field":"g","type":"nominal","legend":null}}}
     ]},
     {"data":{"name":"out"},"transform":[{"filter":"datum.p=='ZEB2'"}],"mark":{"type":"circle","size":12,"opacity":1},"encoding":{"y":{"field":"v","type":"quantitative"},"color":{"field":"g","type":"nominal","legend":null}}},
     {"data":{"name":"mean"},"transform":[{"filter":"datum.p=='ZEB2'"}],"mark":{"type":"point","shape":"triangle-up","filled":true,"size":45,"color":"#c9184a","opacity":1},"encoding":{"y":{"field":"m","type":"quantitative"}}},
     {"data":{"name":"sig"},"transform":[{"filter":"datum.p=='ZEB2'"}],"mark":{"type":"text","dx":22,"fontSize":8,"color":"#444444","baseline":"middle"},"encoding":{"x":{"field":"g1","type":"nominal","title":null},"y":{"field":"y","type":"quantitative"},"text":{"field":"t"}}}
    ]},
   {"width": 97, "height": 143, "title": "TWIST1",
    "encoding": {"x": {"field":"g","type":"nominal","title":null,"scale":{"domain":["tumor claudin low","tumor other"],"paddingInner":0,"paddingOuter":0.1},"axis":{"labelExpr":"datum.label == 'tumor claudin low' ? ['tumor','claudin low'] : datum.label == 'tumor other' ? ['tumor','other'] : datum.label"}}},
    "layer": [
     {"data":{"name":"box"},"transform":[{"filter":"datum.p=='TWIST1'"}],"layer":[
       {"mark":{"type":"rule","strokeWidth":1.1,"opacity":0.75},"encoding":{"y":{"field":"lo","type":"quantitative","title":"RNA-Seq: log2(TPM)","scale":{"domain":[-0.29,6.92],"nice":false,"zero":false},"axis":{"tickCount":100,"labelOverlap":false,"format":".0f","values":[0,1,2,3,4,5,6],"labelExpr":"datum.value % 2 == 0 ? datum.label : ''"}},"y2":{"field":"hi"},"color":{"field":"g","type":"nominal","legend":null,"scale":{"domain":["tumor claudin low","tumor other"],"range":["#1a6bb0","#15325a"]}}}},
       {"mark":{"type":"bar","width":17.6,"fill":"white","strokeWidth":1.1,"strokeOpacity":0.8},"encoding":{"y":{"field":"q1","type":"quantitative"},"y2":{"field":"q3"},"stroke":{"field":"g","type":"nominal","legend":null,"scale":{"domain":["tumor claudin low","tumor other"],"range":["#1a6bb0","#15325a"]}}}},
       {"mark":{"type":"tick","size":17.6,"thickness":1.8,"opacity":1},"encoding":{"y":{"field":"md","type":"quantitative"},"color":{"field":"g","type":"nominal","legend":null}}}
     ]},
     {"data":{"name":"out"},"transform":[{"filter":"datum.p=='TWIST1'"}],"mark":{"type":"circle","size":12,"opacity":1},"encoding":{"y":{"field":"v","type":"quantitative"},"color":{"field":"g","type":"nominal","legend":null}}},
     {"data":{"name":"mean"},"transform":[{"filter":"datum.p=='TWIST1'"}],"mark":{"type":"point","shape":"triangle-up","filled":true,"size":45,"color":"#c9184a","opacity":1},"encoding":{"y":{"field":"m","type":"quantitative"}}},
     {"data":{"name":"sig"},"transform":[{"filter":"datum.p=='TWIST1'"}],"mark":{"type":"text","dx":22,"fontSize":8,"color":"#444444","baseline":"middle"},"encoding":{"x":{"field":"g1","type":"nominal","title":null},"y":{"field":"y","type":"quantitative"},"text":{"field":"t"}}}
    ]},
   {"width": 97, "height": 143, "title": "TWIST2",
    "encoding": {"x": {"field":"g","type":"nominal","title":null,"scale":{"domain":["tumor claudin low","tumor other"],"paddingInner":0,"paddingOuter":0.1},"axis":{"labelExpr":"datum.label == 'tumor claudin low' ? ['tumor','claudin low'] : datum.label == 'tumor other' ? ['tumor','other'] : datum.label"}}},
    "layer": [
     {"data":{"name":"box"},"transform":[{"filter":"datum.p=='TWIST2'"}],"layer":[
       {"mark":{"type":"rule","strokeWidth":1.1,"opacity":0.75},"encoding":{"y":{"field":"lo","type":"quantitative","title":"RNA-Seq: log2(TPM)","scale":{"domain":[-0.45,6.17],"nice":false,"zero":false},"axis":{"tickCount":100,"labelOverlap":false,"format":".0f","values":[0,1,2,3,4,5,6],"labelExpr":"datum.value % 2 == 0 ? datum.label : ''"}},"y2":{"field":"hi"},"color":{"field":"g","type":"nominal","legend":null,"scale":{"domain":["tumor claudin low","tumor other"],"range":["#1a6bb0","#15325a"]}}}},
       {"mark":{"type":"bar","width":17.6,"fill":"white","strokeWidth":1.1,"strokeOpacity":0.8},"encoding":{"y":{"field":"q1","type":"quantitative"},"y2":{"field":"q3"},"stroke":{"field":"g","type":"nominal","legend":null,"scale":{"domain":["tumor claudin low","tumor other"],"range":["#1a6bb0","#15325a"]}}}},
       {"mark":{"type":"tick","size":17.6,"thickness":1.8,"opacity":1},"encoding":{"y":{"field":"md","type":"quantitative"},"color":{"field":"g","type":"nominal","legend":null}}}
     ]},
     {"data":{"name":"out"},"transform":[{"filter":"datum.p=='TWIST2'"}],"mark":{"type":"circle","size":12,"opacity":1},"encoding":{"y":{"field":"v","type":"quantitative"},"color":{"field":"g","type":"nominal","legend":null}}},
     {"data":{"name":"mean"},"transform":[{"filter":"datum.p=='TWIST2'"}],"mark":{"type":"point","shape":"triangle-up","filled":true,"size":45,"color":"#c9184a","opacity":1},"encoding":{"y":{"field":"m","type":"quantitative"}}},
     {"data":{"name":"sig"},"transform":[{"filter":"datum.p=='TWIST2'"}],"mark":{"type":"text","dx":22,"fontSize":8,"color":"#444444","baseline":"middle"},"encoding":{"x":{"field":"g1","type":"nominal","title":null},"y":{"field":"y","type":"quantitative"},"text":{"field":"t"}}}
    ]}
    ]}
    ]}
  ]},
 {"hconcat": [
  {"resolve": {"scale": {"color": "independent", "stroke": "independent"}},
   "spacing": 37,
   "hconcat": [
  {"title": {"text": "D", "fontSize": 22, "fontWeight": "normal", "anchor": "start", "frame": "bounds", "offset": 0, "dx": 1},
   "resolve": {"scale": {"color": "independent", "stroke": "independent"}},
   "hconcat": [
    {"width": 110, "height": 141, "title": {"text": "HIF1A", "dx": 14},
     "encoding": {"x": {"field":"g","type":"nominal","title":null,"scale":{"domain":["tumor claudin low","tumor other"],"paddingInner":0,"paddingOuter":0.35},"axis":{"labelExpr":"datum.label == 'tumor claudin low' ? ['tumor','claudin low'] : datum.label == 'tumor other' ? ['tumor','other'] : datum.label"}}},
     "layer": [
      {"data":{"name":"box"},"transform":[{"filter":"datum.p=='HIF1A'"}],"layer":[
        {"mark":{"type":"rule","strokeWidth":1.1,"opacity":0.75},"encoding":{"y":{"field":"lo","type":"quantitative","title":"RNA-Seq: log2(TPM)","scale":{"domain":[0.79,9.79],"nice":false,"zero":false},"axis":{"tickCount":100,"labelOverlap":false,"values":[1.25,2.5,3.75,5,6.25,7.5,8.75],"format":".1f","labelExpr":"datum.value % 2.5 == 0 ? datum.label : ''"}},"y2":{"field":"hi"},"color":{"field":"g","type":"nominal","legend":null,"scale":{"domain":["tumor claudin low","tumor other"],"range":["#1a6bb0","#15325a"]}}}},
        {"mark":{"type":"bar","width":16.3,"fill":"white","strokeWidth":1.1,"strokeOpacity":0.8},"encoding":{"y":{"field":"q1","type":"quantitative"},"y2":{"field":"q3"},"stroke":{"field":"g","type":"nominal","legend":null,"scale":{"domain":["tumor claudin low","tumor other"],"range":["#1a6bb0","#15325a"]}}}},
        {"mark":{"type":"tick","size":16.3,"thickness":1.8,"opacity":1},"encoding":{"y":{"field":"md","type":"quantitative"},"color":{"field":"g","type":"nominal","legend":null}}}
      ]},
      {"data":{"name":"out"},"transform":[{"filter":"datum.p=='HIF1A'"}],"mark":{"type":"circle","size":12,"opacity":1},"encoding":{"y":{"field":"v","type":"quantitative"},"color":{"field":"g","type":"nominal","legend":null}}},
      {"data":{"name":"mean"},"transform":[{"filter":"datum.p=='HIF1A'"}],"mark":{"type":"point","shape":"triangle-up","filled":true,"size":45,"color":"#c9184a","opacity":1},"encoding":{"y":{"field":"m","type":"quantitative"}}},
      {"data":{"name":"sig"},"transform":[{"filter":"datum.p=='HIF1A'"}],"mark":{"type":"text","dx":20.4,"fontSize":8,"color":"#444444","baseline":"middle"},"encoding":{"x":{"field":"g1","type":"nominal","title":null},"y":{"field":"y","type":"quantitative"},"text":{"field":"t"}}}
     ]}
   ]},
  {"title": {"text": "E", "fontSize": 22, "fontWeight": "normal", "anchor": "start", "frame": "bounds", "offset": 0, "dx": -6},
   "resolve": {"scale": {"color": "independent", "stroke": "independent"}},
   "spacing": 10,
   "hconcat": [
    {"width": 65, "height": 150, "title": {"text": "EMT", "anchor": "middle", "fontWeight": "normal", "fontSize": 7, "color": "#1a1a1a"},
     "encoding": {"x": {"field":"g","type":"nominal","title":null,"scale":{"domain":["EMT"],"paddingInner":0,"paddingOuter":0.1},"axis":{"labels":false}}},
     "layer": [
      {"data":{"name":"box"},"transform":[{"filter":"datum.p=='EMT'"}],"layer":[
        {"mark":{"type":"rule","strokeWidth":1.1,"opacity":0.75},"encoding":{"y":{"field":"lo","type":"quantitative","title":"score","scale":{"domain":[-0.12,3.81],"nice":false,"zero":false},"axis":{"tickCount":100,"labelOverlap":false,"values":[0,0.5,1,1.5,2,2.5,3,3.5],"format":".0f","labelExpr":"datum.value % 1 == 0 ? datum.label : ''"}},"y2":{"field":"hi"},"color":{"field":"g","type":"nominal","legend":null,"scale":{"domain":["EMT"],"range":["#1d5fa8"]}}}},
        {"mark":{"type":"bar","width":18,"fill":"white","strokeWidth":1.1,"strokeOpacity":0.85},"encoding":{"y":{"field":"q1","type":"quantitative"},"y2":{"field":"q3"},"stroke":{"field":"g","type":"nominal","legend":null,"scale":{"domain":["EMT"],"range":["#1d5fa8"]}}}},
        {"mark":{"type":"tick","size":18,"thickness":1.8,"opacity":1},"encoding":{"y":{"field":"md","type":"quantitative"},"color":{"field":"g","type":"nominal","legend":null}}}
      ]},
      {"data":{"name":"out"},"transform":[{"filter":"datum.p=='EMT'"}],"mark":{"type":"circle","size":12,"opacity":1},"encoding":{"y":{"field":"v","type":"quantitative"},"color":{"field":"g","type":"nominal","legend":null}}},
      {"data":{"name":"mean"},"transform":[{"filter":"datum.p=='EMT'"}],"mark":{"type":"point","shape":"triangle-up","filled":true,"size":45,"color":"#c9184a","opacity":1},"encoding":{"y":{"field":"m","type":"quantitative"}}}
     ]},
    {"width": 55, "height": 150, "title": {"text": "Hypoxia", "anchor": "middle", "fontWeight": "normal", "fontSize": 7, "color": "#1a1a1a"},
     "encoding": {"x": {"field":"g","type":"nominal","title":null,"scale":{"domain":["Hypoxia"],"paddingInner":0,"paddingOuter":0.1},"axis":{"labels":false}}},
     "layer": [
      {"data":{"name":"box"},"transform":[{"filter":"datum.p=='Hypoxia'"}],"layer":[
        {"mark":{"type":"rule","strokeWidth":1.1,"opacity":0.75},"encoding":{"y":{"field":"lo","type":"quantitative","title":null,"scale":{"domain":[-0.17,1.08],"nice":false,"zero":false},"axis":{"tickCount":100,"labelOverlap":false,"values":[-0.125,0,0.125,0.25,0.375,0.5,0.625,0.75,0.875,1],"format":".2f","labelExpr":"datum.value % 0.25 == 0 ? datum.label : ''"}},"y2":{"field":"hi"},"color":{"field":"g","type":"nominal","legend":null,"scale":{"domain":["Hypoxia"],"range":["#1d5fa8"]}}}},
        {"mark":{"type":"bar","width":19,"fill":"white","strokeWidth":1.1,"strokeOpacity":0.85},"encoding":{"y":{"field":"q1","type":"quantitative"},"y2":{"field":"q3"},"stroke":{"field":"g","type":"nominal","legend":null,"scale":{"domain":["Hypoxia"],"range":["#1d5fa8"]}}}},
        {"mark":{"type":"tick","size":19,"thickness":1.8,"opacity":1},"encoding":{"y":{"field":"md","type":"quantitative"},"color":{"field":"g","type":"nominal","legend":null}}}
      ]},
      {"data":{"name":"out"},"transform":[{"filter":"datum.p=='Hypoxia'"}],"mark":{"type":"circle","size":12,"opacity":1},"encoding":{"y":{"field":"v","type":"quantitative"},"color":{"field":"g","type":"nominal","legend":null}}},
      {"data":{"name":"mean"},"transform":[{"filter":"datum.p=='Hypoxia'"}],"mark":{"type":"point","shape":"triangle-up","filled":true,"size":45,"color":"#c9184a","opacity":1},"encoding":{"y":{"field":"m","type":"quantitative"}}}
     ]}
   ]}
   ]},
  {"title": {"text": "F", "fontSize": 22, "fontWeight": "normal", "anchor": "start", "frame": "bounds", "offset": -10, "dx": -6},
   "resolve": {"scale": {"color": "independent", "stroke": "independent"}},
   "spacing": 21,
   "hconcat": [
    {"width": 96, "height": 142, "title": {"text": "TGFb pathway", "offset": 14},
     "encoding": {"x": {"field":"g","type":"nominal","title":null,"scale":{"domain":["normal","tumor"],"paddingInner":0,"paddingOuter":0.1}}},
     "layer": [
      {"data":{"name":"box"},"transform":[{"filter":"datum.p=='TGFb'"}],"layer":[
        {"mark":{"type":"rule","strokeWidth":1.1,"opacity":0.75},"encoding":{"y":{"field":"lo","type":"quantitative","title":"Activity score","scale":{"domain":[-5.29,3.34],"nice":false,"zero":false},"axis":{"tickCount":100,"labelOverlap":false,"format":".0f","values":[-5,-4,-3,-2,-1,0,1,2,3],"labelExpr":"datum.value % 2 == 0 ? datum.label : ''"}},"y2":{"field":"hi"},"color":{"field":"g","type":"nominal","legend":null,"scale":{"domain":["normal","tumor"],"range":["#1a6bb0","#15325a"]}}}},
        {"mark":{"type":"bar","width":17.5,"fill":"white","strokeWidth":1.1,"strokeOpacity":0.8},"encoding":{"y":{"field":"q1","type":"quantitative"},"y2":{"field":"q3"},"stroke":{"field":"g","type":"nominal","legend":null,"scale":{"domain":["normal","tumor"],"range":["#1a6bb0","#15325a"]}}}},
        {"mark":{"type":"tick","size":17.5,"thickness":1.8,"opacity":1},"encoding":{"y":{"field":"md","type":"quantitative"},"color":{"field":"g","type":"nominal","legend":null}}}
      ]},
      {"data":{"name":"out"},"transform":[{"filter":"datum.p=='TGFb'"}],"mark":{"type":"circle","size":12,"opacity":1},"encoding":{"y":{"field":"v","type":"quantitative"},"color":{"field":"g","type":"nominal","legend":null}}},
      {"data":{"name":"mean"},"transform":[{"filter":"datum.p=='TGFb'"}],"mark":{"type":"point","shape":"triangle-up","filled":true,"size":45,"color":"#c9184a","opacity":1},"encoding":{"y":{"field":"m","type":"quantitative"}}}
     ]},
    {"width": 99, "height": 138, "title": {"text": "TGFB1", "offset": 14},
     "encoding": {"x": {"field":"g","type":"nominal","title":null,"scale":{"domain":["tumor claudin low","tumor other"],"paddingInner":0,"paddingOuter":0.1},"axis":{"labelExpr":"datum.label == 'tumor claudin low' ? ['tumor','claudin low'] : datum.label == 'tumor other' ? ['tumor','other'] : datum.label"}}},
     "layer": [
      {"data":{"name":"box"},"transform":[{"filter":"datum.p=='TGFB1'"}],"layer":[
        {"mark":{"type":"rule","strokeWidth":1.1,"opacity":0.75},"encoding":{"y":{"field":"lo","type":"quantitative","title":"RNA-Seq: log2(TPM)","scale":{"domain":[0.82,7.55],"nice":false,"zero":false},"axis":{"tickCount":100,"labelOverlap":false,"format":".0f","values":[1,2,3,4,5,6,7],"labelExpr":"datum.value % 2 == 0 ? datum.label : ''"}},"y2":{"field":"hi"},"color":{"field":"g","type":"nominal","legend":null,"scale":{"domain":["tumor claudin low","tumor other"],"range":["#1a6bb0","#15325a"]}}}},
        {"mark":{"type":"bar","width":18,"fill":"white","strokeWidth":1.1,"strokeOpacity":0.8},"encoding":{"y":{"field":"q1","type":"quantitative"},"y2":{"field":"q3"},"stroke":{"field":"g","type":"nominal","legend":null,"scale":{"domain":["tumor claudin low","tumor other"],"range":["#1a6bb0","#15325a"]}}}},
        {"mark":{"type":"tick","size":18,"thickness":1.8,"opacity":1},"encoding":{"y":{"field":"md","type":"quantitative"},"color":{"field":"g","type":"nominal","legend":null}}}
      ]},
      {"data":{"name":"out"},"transform":[{"filter":"datum.p=='TGFB1'"}],"mark":{"type":"circle","size":12,"opacity":1},"encoding":{"y":{"field":"v","type":"quantitative"},"color":{"field":"g","type":"nominal","legend":null}}},
      {"data":{"name":"mean"},"transform":[{"filter":"datum.p=='TGFB1'"}],"mark":{"type":"point","shape":"triangle-up","filled":true,"size":45,"color":"#c9184a","opacity":1},"encoding":{"y":{"field":"m","type":"quantitative"}}},
      {"data":{"name":"sig"},"transform":[{"filter":"datum.p=='TGFB1'"}],"mark":{"type":"text","dx":22.5,"fontSize":8,"color":"#444444","baseline":"middle"},"encoding":{"x":{"field":"g1","type":"nominal","title":null},"y":{"field":"y","type":"quantitative"},"text":{"field":"t"}}}
     ]}
   ]}
 ], "spacing": 33, "resolve": {"scale": {"color": "independent", "stroke": "independent"}}}
  ]}
]
}
